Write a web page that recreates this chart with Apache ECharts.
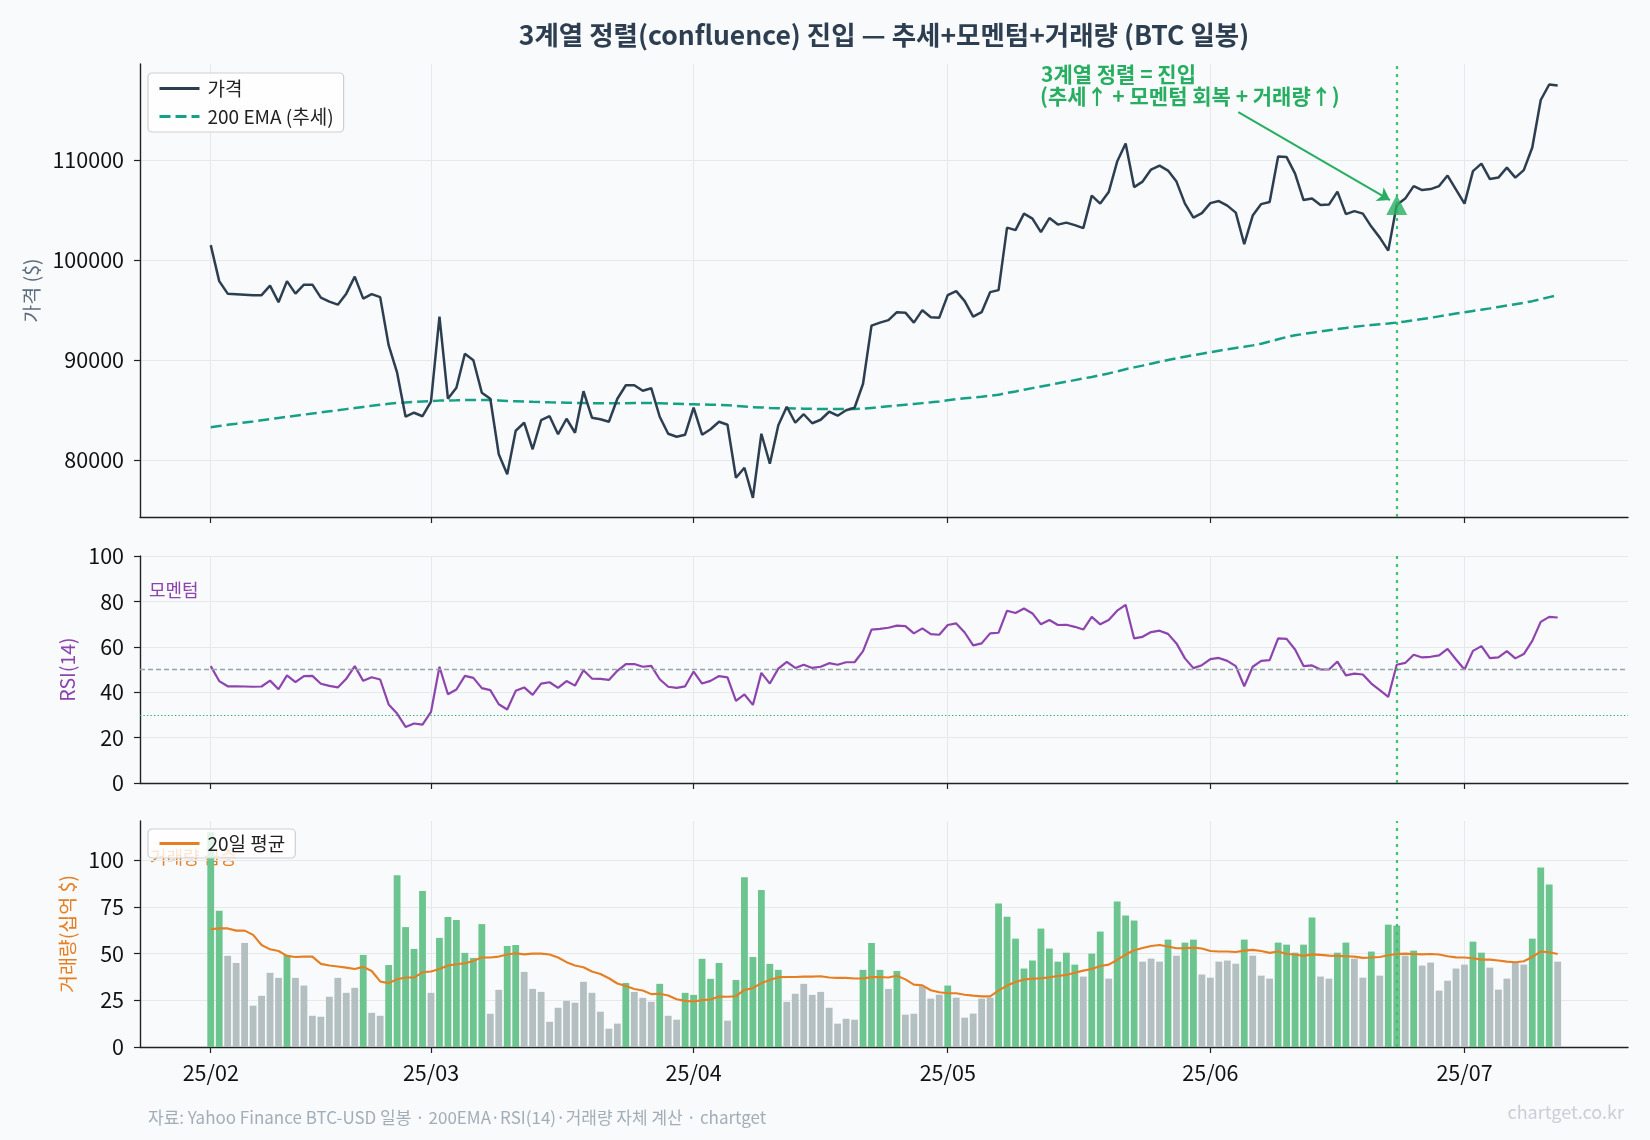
<!DOCTYPE html>
<html>
<head>
<meta charset="utf-8">
<script src="https://cdn.jsdelivr.net/npm/echarts@6/dist/echarts.min.js"></script>
<style>
html, body { margin: 0; padding: 0; background: #f8fafc; }
#main { width: 1650px; height: 1140px; }
</style>
</head>
<body>
<div id="main"></div>
<script>
// BTC 일봉 2025-02-03 ~ 2025-07-12 (index 0 = 02/03)
var monthTicks = [0, 26, 57, 87, 118, 148];
var monthLabels = ['25/02', '25/03', '25/04', '25/05', '25/06', '25/07'];
var entryIdx = 140;

var price = [101500, 97900, 96650, 96600, 96550, 96500, 96500, 97450, 95800, 97900,
  96650, 97550, 97550, 96250, 95850, 95550, 96650, 98350, 96150, 96600,
  96300, 91500, 88750, 84350, 84750, 84400, 85850, 94350, 86150, 87250,
  90650, 90000, 86750, 86150, 80600, 78600, 82950, 83750, 81100, 84000,
  84400, 82600, 84150, 82750, 86900, 84250, 84100, 83850, 86150, 87500,
  87500, 86950, 87200, 84350, 82650, 82350, 82550, 85250, 82550, 83100,
  83850, 83550, 78250, 79250, 76250, 82650, 79650, 83500, 85350, 83750,
  84600, 83700, 84050, 84850, 84450, 85000, 85250, 87650, 93450, 93750,
  94000, 94800, 94750, 93750, 95000, 94300, 94250, 96500, 96900, 95900,
  94350, 94800, 96800, 97000, 103250, 103000, 104650, 104150, 102800, 104200,
  103550, 103750, 103500, 103200, 106450, 105650, 106800, 109850, 111650, 107300,
  107850, 109050, 109450, 108950, 107850, 105650, 104250, 104700, 105700, 105900,
  105450, 104750, 101600, 104450, 105600, 105800, 110350, 110300, 108650, 106000,
  106150, 105500, 105550, 106850, 104600, 104900, 104650, 103350, 102250, 100950,
  105500, 106150, 107400, 107000, 107100, 107400, 108450, 107050, 105650, 108900,
  109650, 108100, 108250, 109250, 108250, 109000, 111250, 116000, 117550, 117450];

var ema200 = [83300, 83420, 83540, 83650, 83770, 83880, 84000, 84110, 84230, 84340,
  84450, 84560, 84670, 84780, 84890, 85000, 85110, 85220, 85330, 85440,
  85550, 85640, 85720, 85780, 85830, 85870, 85900, 85960, 85970, 85990,
  86020, 86030, 86030, 86020, 85980, 85930, 85900, 85870, 85840, 85820,
  85790, 85770, 85750, 85730, 85730, 85710, 85700, 85690, 85690, 85700,
  85710, 85710, 85720, 85700, 85670, 85640, 85610, 85600, 85570, 85550,
  85530, 85510, 85440, 85380, 85310, 85280, 85230, 85210, 85190, 85170,
  85160, 85140, 85130, 85130, 85120, 85120, 85130, 85150, 85230, 85310,
  85390, 85470, 85550, 85630, 85710, 85790, 85880, 86000, 86100, 86190,
  86270, 86350, 86450, 86550, 86720, 86880, 87050, 87210, 87370, 87530,
  87690, 87850, 88010, 88170, 88330, 88500, 88680, 88880, 89100, 89280,
  89460, 89650, 89840, 90020, 90190, 90350, 90500, 90650, 90800, 90950,
  91090, 91220, 91340, 91480, 91650, 91870, 92090, 92310, 92490, 92620,
  92750, 92880, 93000, 93110, 93220, 93340, 93430, 93510, 93590, 93660,
  93760, 93870, 93990, 94110, 94240, 94380, 94520, 94660, 94790, 94920,
  95050, 95180, 95320, 95460, 95600, 95730, 95900, 96100, 96300, 96500];

var rsi14 = [51.5, 44.9, 42.6, 42.6, 42.5, 42.4, 42.5, 45.1, 41.3, 47.4,
  44.4, 47.1, 47.2, 43.7, 42.8, 42.1, 45.9, 51.5, 45.0, 46.6,
  45.6, 34.6, 30.6, 24.7, 26.2, 25.7, 31.3, 51.2, 39.1, 41.2,
  47.2, 46.3, 41.8, 40.9, 34.7, 32.4, 40.6, 42.1, 38.8, 43.8,
  44.4, 41.9, 44.9, 42.9, 49.7, 46.0, 45.9, 45.4, 49.4, 52.4,
  52.4, 51.2, 51.6, 45.7, 42.4, 41.9, 42.6, 49.1, 43.8, 45.0,
  47.1, 46.5, 36.2, 39.0, 34.4, 48.5, 43.8, 50.4, 53.4, 50.7,
  52.1, 50.7, 51.2, 52.8, 52.1, 53.2, 53.2, 58.1, 67.6, 67.9,
  68.4, 69.3, 69.1, 65.9, 68.1, 65.6, 65.3, 69.6, 70.3, 66.3,
  60.6, 61.5, 65.9, 66.2, 75.9, 74.9, 76.9, 74.7, 69.9, 71.8,
  69.6, 69.7, 68.8, 67.6, 73.2, 69.9, 71.8, 75.9, 78.5, 63.7,
  64.4, 66.5, 67.1, 65.7, 61.5, 54.9, 50.6, 51.9, 54.6, 55.1,
  53.8, 51.5, 42.6, 51.2, 53.8, 54.1, 63.7, 63.5, 58.8, 51.5,
  51.8, 50.0, 50.0, 53.5, 47.4, 48.2, 47.8, 43.8, 40.9, 37.9,
  52.1, 52.9, 56.5, 55.3, 55.6, 56.2, 59.1, 54.4, 50.0, 58.2,
  60.3, 55.0, 55.3, 58.1, 54.9, 56.8, 62.6, 71.0, 73.2, 72.9];

// 거래량 (십억 $)
var volume = [115, 73.0, 48.8, 45.0, 55.7, 22.1, 27.4, 39.7, 37.0, 49.3,
  37.0, 32.9, 16.7, 16.2, 26.9, 37.0, 29.0, 31.7, 49.3, 18.3,
  16.7, 43.9, 92.0, 64.2, 52.5, 83.5, 29.0, 58.4, 69.6, 68.0,
  50.4, 47.7, 65.8, 17.8, 30.6, 54.1, 54.6, 40.2, 31.1, 29.5,
  13.5, 21.0, 24.7, 23.7, 34.9, 29.0, 18.9, 9.8, 12.5, 34.3,
  29.5, 26.3, 24.2, 33.8, 16.7, 14.6, 29.0, 27.9, 47.2, 36.5,
  45.0, 14.1, 35.9, 90.9, 48.2, 84.0, 44.5, 41.3, 24.2, 28.5,
  33.8, 27.9, 29.5, 21.0, 12.5, 15.1, 14.6, 41.3, 55.7, 41.3,
  31.1, 40.7, 17.3, 17.8, 32.5, 25.9, 28.0, 32.9, 26.4, 15.7,
  17.9, 25.9, 26.4, 76.8, 69.8, 58.0, 42.0, 46.3, 63.4, 52.7,
  45.7, 50.5, 44.1, 37.7, 50.0, 61.8, 36.6, 77.9, 70.4, 67.7,
  45.7, 47.3, 45.7, 57.5, 48.9, 55.9, 57.5, 38.8, 37.1, 45.7,
  46.3, 44.6, 57.5, 48.9, 38.2, 36.6, 55.9, 54.8, 50.5, 54.8,
  69.3, 37.7, 36.6, 50.5, 55.9, 47.3, 37.1, 51.1, 38.2, 65.5,
  65.0, 48.9, 51.6, 43.6, 45.2, 30.2, 35.5, 42.0, 44.1, 56.4,
  50.5, 42.5, 30.7, 36.6, 45.2, 44.1, 58.0, 96.1, 87.0, 45.7];

var volMa20 = [63.0, 63.5, 63.5, 62.3, 62.3, 60.0, 54.6, 52.3, 51.4, 48.8,
  48.2, 48.4, 48.4, 44.5, 43.6, 43.1, 42.5, 41.8, 42.9, 40.7,
  35.1, 34.2, 36.3, 37.2, 37.2, 40.0, 40.4, 41.8, 43.6, 44.3,
  44.8, 46.1, 47.9, 47.9, 48.4, 49.5, 50.2, 49.6, 50.0, 50.0,
  49.5, 47.9, 45.4, 43.6, 42.7, 40.4, 39.1, 36.8, 34.0, 32.6,
  31.1, 30.2, 28.3, 28.5, 27.6, 25.6, 24.7, 24.4, 25.1, 25.4,
  27.0, 26.9, 27.2, 30.6, 31.5, 34.2, 35.9, 37.4, 37.5, 37.5,
  37.7, 37.7, 37.9, 37.2, 37.0, 37.0, 36.7, 36.7, 37.4, 37.5,
  37.2, 38.1, 36.2, 33.4, 33.0, 30.4, 29.3, 28.8, 28.8, 28.0,
  27.5, 27.1, 27.1, 30.2, 32.9, 34.8, 36.1, 36.6, 36.8, 37.3,
  38.0, 38.6, 39.8, 40.9, 41.8, 43.4, 44.1, 46.6, 49.5, 51.8,
  53.0, 54.1, 54.6, 53.8, 52.9, 52.9, 53.2, 52.7, 51.4, 51.1,
  51.1, 50.9, 51.6, 52.0, 51.4, 50.4, 51.1, 49.8, 49.5, 48.8,
  49.6, 49.3, 48.9, 48.8, 48.6, 48.4, 47.7, 47.9, 48.2, 49.1,
  49.8, 50.0, 49.8, 49.6, 49.8, 49.5, 48.6, 48.0, 47.9, 47.5,
  46.8, 46.8, 46.3, 45.7, 45.4, 45.9, 48.2, 51.1, 50.7, 49.8];

var priceTicks = [80000, 90000, 100000, 110000];
var rsiTicks = [0, 20, 40, 60, 80, 100];
var volTicks = [0, 25, 50, 75, 100];

var FONT = "'Noto Sans CJK KR', 'Noto Sans', sans-serif";
var GREEN = '#27ae60';

function xy(arr) {
    return arr.map(function (v, i) { return [i, v]; });
}

var volData = volume.map(function (v, i) {
    return { value: [i, v], itemStyle: { color: v > volMa20[i] ? '#6cc58f' : '#b4bfc1' } };
});

function xAxisFor(k) {
    return {
        type: 'value', gridIndex: k, min: -8.35, max: 167.3,
        axisLine: { show: true, onZero: false, lineStyle: { color: '#222', width: 1.4 } },
        axisTick: { show: true, customValues: monthTicks, length: 6, lineStyle: { color: '#222', width: 1.2 } },
        axisLabel: {
            show: k === 2, customValues: monthTicks, margin: 15,
            color: '#111', fontSize: 21.5, fontFamily: FONT,
            formatter: function (v) {
                var j = monthTicks.indexOf(Math.round(v));
                return j >= 0 ? monthLabels[j] : '';
            }
        },
        splitLine: { show: true, lineStyle: { color: '#e6e8eb', width: 1 } }
    };
}

function yAxisFor(k, min, max, ticks, name, nameColor, gap) {
    return {
        type: 'value', gridIndex: k, min: min, max: max,
        name: name, nameLocation: 'middle', nameGap: gap,
        nameTextStyle: { color: nameColor, fontSize: 19.5, fontFamily: FONT },
        axisLine: { show: true, onZero: false, lineStyle: { color: '#222', width: 1.4 } },
        axisTick: { show: true, customValues: ticks, length: 6, lineStyle: { color: '#222', width: 1.2 } },
        axisLabel: {
            customValues: ticks, margin: 16, color: '#111', fontSize: 21.5, fontFamily: FONT,
            formatter: function (v) { return String(v); }
        },
        splitLine: { show: true, lineStyle: { color: '#e6e8eb', width: 1 } }
    };
}

function entryLine() {
    return {
        silent: true, symbol: 'none', label: { show: false },
        lineStyle: { color: '#3cc46e', type: [3, 5], width: 2.2 },
        data: [{ xAxis: entryIdx }]
    };
}

var legendBase = {
    orient: 'vertical', left: 148,
    backgroundColor: 'rgba(255,255,255,0.8)', borderColor: '#cfcfcf', borderWidth: 1.2, borderRadius: 4,
    itemWidth: 40, itemHeight: 14,
    itemStyle: { opacity: 0 },
    lineStyle: { width: 3 },
    textStyle: { fontSize: 19, color: '#222', fontFamily: FONT, padding: [0, 0, 0, 3] }
};

var myChart = echarts.init(document.getElementById('main'));

var option = {
    backgroundColor: '#f8fafc',
    animation: false,
    textStyle: { fontFamily: FONT },
    grid: [
        { left: 140, top: 64, width: 1488, height: 453 },
        { left: 140, top: 556, width: 1488, height: 227 },
        { left: 140, top: 821, width: 1488, height: 226 }
    ],
    xAxis: [xAxisFor(0), xAxisFor(1), xAxisFor(2)],
    yAxis: [
        yAxisFor(0, 74330, 119600, priceTicks, '가격 ($)', '#5d6d7e', 96),
        yAxisFor(1, 0, 100, rsiTicks, 'RSI(14)', '#8e44ad', 62),
        yAxisFor(2, 0, 121, volTicks, '거래량(십억 $)', '#e67e22', 62)
    ],
    legend: [
        Object.assign({}, legendBase, {
            data: ['가격', '200 EMA (추세)'], top: 73,
            padding: [6, 10, 6, 10], itemGap: 9
        }),
        Object.assign({}, legendBase, {
            data: ['20일 평균'], top: 829,
            padding: [5, 10, 5, 10]
        })
    ],
    graphic: [
        { type: 'text', x: 884, y: 35, style: { text: '3계열 정렬(confluence) 진입 — 추세+모멘텀+거래량 (BTC 일봉)', align: 'center', verticalAlign: 'middle', fill: '#2c3e50', font: 'bold 26.5px ' + FONT } },
        { type: 'text', x: 1041, y: 74, style: { text: '3계열 정렬 = 진입', align: 'left', verticalAlign: 'middle', fill: GREEN, font: 'bold 21px ' + FONT } },
        { type: 'text', x: 1040, y: 96, style: { text: '(추세↑ + 모멘텀 회복 + 거래량↑)', align: 'left', verticalAlign: 'middle', fill: GREEN, font: 'bold 21px ' + FONT } },
        { type: 'text', x: 149, y: 590, style: { text: '모멘텀', align: 'left', verticalAlign: 'middle', fill: '#8e44ad', font: '18px ' + FONT } },
        { type: 'text', x: 150, y: 857, z: 0, style: { text: '거래량 급증', align: 'left', verticalAlign: 'middle', fill: '#e67e22', font: '18px ' + FONT } },
        { type: 'text', x: 148, y: 1118, style: { text: '자료: Yahoo Finance BTC-USD 일봉 · 200EMA·RSI(14)·거래량 자체 계산 · chartget', align: 'left', verticalAlign: 'middle', fill: '#a3adb8', font: '17px ' + FONT } },
        { type: 'text', x: 1624, y: 1112, style: { text: 'chartget.co.kr', align: 'right', verticalAlign: 'middle', fill: '#c9cfd6', font: '18px ' + FONT } }
    ],
    series: [
        {
            name: '가격', type: 'line', xAxisIndex: 0, yAxisIndex: 0, data: xy(price),
            symbol: 'none', z: 4, lineStyle: { color: '#2c3e50', width: 2.5 }, itemStyle: { color: '#2c3e50' },
            markLine: {
                silent: true, symbol: ['none', 'arrow'], symbolSize: 12, label: { show: false },
                lineStyle: { color: GREEN, width: 2, type: 'solid' },
                data: [[{ coord: [121.3, 114800] }, { coord: [139.2, 106000] }]]
            }
        },
        {
            name: '200 EMA (추세)', type: 'line', xAxisIndex: 0, yAxisIndex: 0, data: xy(ema200),
            symbol: 'none', z: 3, lineStyle: { color: '#16a085', width: 2.5, type: [11, 5] }, itemStyle: { color: '#16a085' },
            markLine: entryLine()
        },
        {
            name: 'entry', type: 'scatter', xAxisIndex: 0, yAxisIndex: 0,
            data: [[entryIdx, price[entryIdx]]], symbol: 'triangle', symbolSize: [21, 20], z: 6,
            itemStyle: { color: GREEN }
        },
        {
            name: 'RSI(14)', type: 'line', xAxisIndex: 1, yAxisIndex: 1, data: xy(rsi14),
            symbol: 'none', z: 4, lineStyle: { color: '#8e44ad', width: 2.2 },
            markLine: {
                silent: true, symbol: 'none', label: { show: false },
                data: [
                    { yAxis: 50, lineStyle: { color: '#95a5a6', type: [5, 3], width: 1.4 } },
                    { yAxis: 30, lineStyle: { color: GREEN, type: [1.3, 2.2], width: 1.2 } },
                    { xAxis: entryIdx, lineStyle: { color: '#3cc46e', type: [3, 5], width: 2.2 } }
                ]
            }
        },
        {
            name: '거래량', type: 'bar', xAxisIndex: 2, yAxisIndex: 2, data: volData,
            barWidth: 6.8, z: 2,
            markLine: entryLine()
        },
        {
            name: '20일 평균', type: 'line', xAxisIndex: 2, yAxisIndex: 2, data: xy(volMa20),
            symbol: 'none', z: 4, lineStyle: { color: '#e67e22', width: 2.1 }, itemStyle: { color: '#e67e22' }
        }
    ]
};
myChart.setOption(option);
</script>
</body>
</html>
